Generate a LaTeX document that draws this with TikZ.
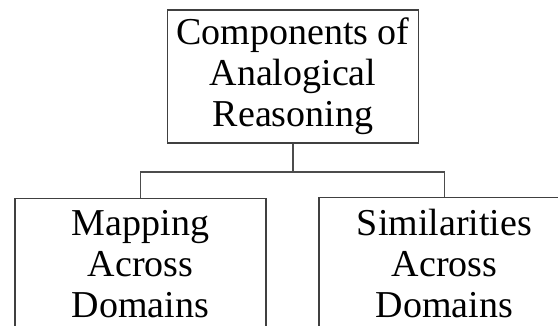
\documentclass[tikz,border=0pt]{standalone}
\usepackage{fontspec}
\setmainfont{Liberation Serif}
\usetikzlibrary{positioning}

\begin{document}
\begin{tikzpicture}[x=1pt,y=-1pt,
	box/.style={draw=black!75, line width=1.5pt, minimum width=251pt, minimum height=133pt,
		inner sep=0pt, align=center, font=\fontsize{38}{41}\selectfont},
	lowbox/.style={box, minimum height=131pt},
	link/.style={draw=black!70, line width=1.5pt}]
	\useasboundingbox (0,0) rectangle (558,325);
	\node[box] (comp) at (293,76.5){Components of\\Analogical\\Reasoning};%top
	\node[lowbox] (mapping) at (140.5,264){Mapping\\Across\\Domains};%left
	\node[lowbox] (similar) at (444.5,263){Similarities\\Across\\Domains};%right
	\draw[link] (comp.south) -- ++(0,28) coordinate (fork);
	\draw[link] (mapping.north) |- (fork) -| (similar.north);
\end{tikzpicture}
\end{document}
